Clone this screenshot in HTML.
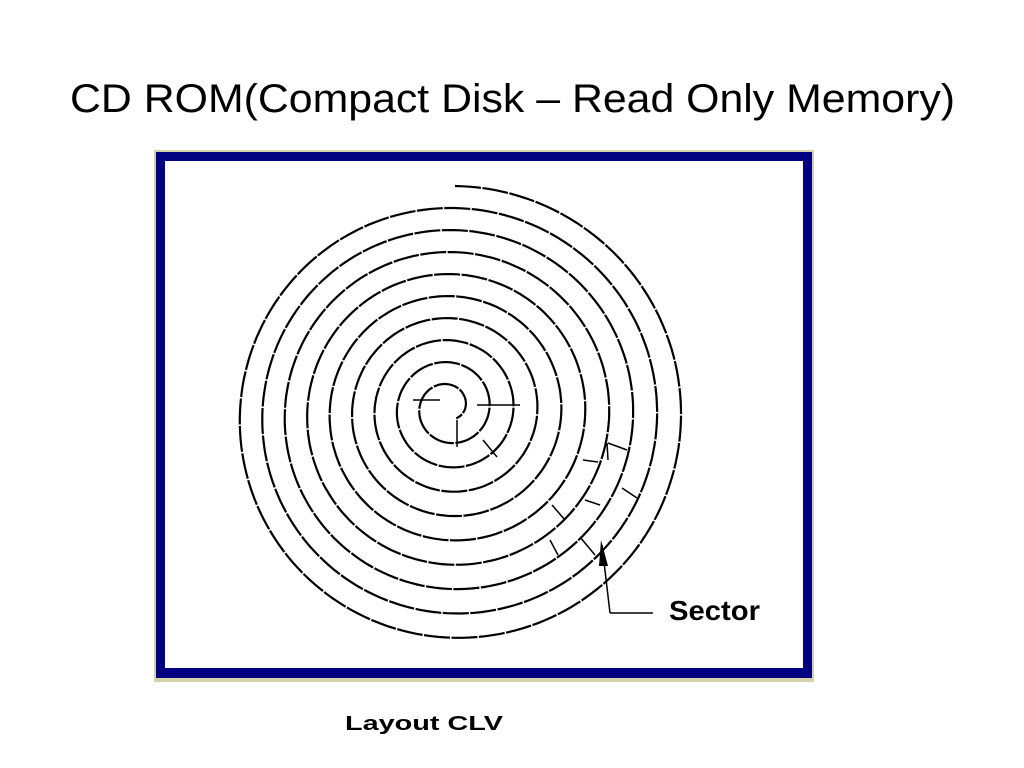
<!DOCTYPE html>
<html><head><meta charset="utf-8"><style>
html,body{margin:0;padding:0;background:#fff;}
body{width:1024px;height:768px;overflow:hidden;position:relative;}
</style></head><body>
<svg width="1024" height="768" viewBox="0 0 1024 768" xmlns="http://www.w3.org/2000/svg" style="position:absolute;left:0;top:0">
<text x="70" y="112" font-family="Liberation Sans, sans-serif" font-size="40" textLength="885" lengthAdjust="spacingAndGlyphs" fill="#000">CD ROM(Compact Disk – Read Only Memory)</text>
<rect x="154" y="150" width="660" height="532" fill="#d8d0a8"/>
<rect x="156" y="152" width="656" height="526" fill="#000080"/>
<rect x="165" y="161" width="638" height="507" fill="#fff"/>
<path id="sp" d="" fill="none" stroke="#000" stroke-width="2.2" stroke-dasharray="26 1.5"/>
<g stroke="#000" stroke-width="1.5" fill="none">
<line x1="413" y1="400" x2="440" y2="400"/>
<line x1="477" y1="405" x2="520" y2="405"/>
<line x1="457" y1="420" x2="457" y2="447"/>
<line x1="483" y1="440" x2="497" y2="457"/>
<line x1="607" y1="443" x2="608" y2="460"/>
<line x1="608" y1="443" x2="627" y2="450"/>
<line x1="583" y1="460" x2="598" y2="462"/>
<line x1="622" y1="488" x2="637" y2="498"/>
<line x1="585" y1="500" x2="600" y2="505"/>
<line x1="552" y1="505" x2="565" y2="520"/>
<line x1="550" y1="540" x2="558" y2="555"/>
<line x1="580" y1="537" x2="595" y2="555"/>
<line x1="602" y1="545" x2="610" y2="613"/>
<line x1="610" y1="613" x2="653" y2="613"/>
</g>
<polygon points="601,540 608,566 599,566" fill="#000"/>
<text x="669" y="620" font-family="Liberation Sans, sans-serif" font-size="28" font-weight="bold" textLength="91" lengthAdjust="spacingAndGlyphs" fill="#000">Sector</text>
<text x="345" y="730" font-family="Liberation Sans, sans-serif" font-size="20" font-weight="bold" textLength="158" lengthAdjust="spacingAndGlyphs" fill="#000">Layout CLV</text>
</svg>
<script>
var pts=[],turns=9.4,R=232;
for(var i=0;i<=turns*180;i++){var t=i/180*2*Math.PI;var f=t/(2*Math.PI);var r=R-f*23.2;if(r<8)break;var a=-Math.PI/2+t;
var k=f/turns;var ox=455-7*k,oy=418-11*k;
pts.push((ox+r*Math.cos(a)).toFixed(1)+","+(oy+r*Math.sin(a)).toFixed(1));}
document.getElementById("sp").setAttribute("d","M"+pts.join(" L"));
</script>
</body></html>
